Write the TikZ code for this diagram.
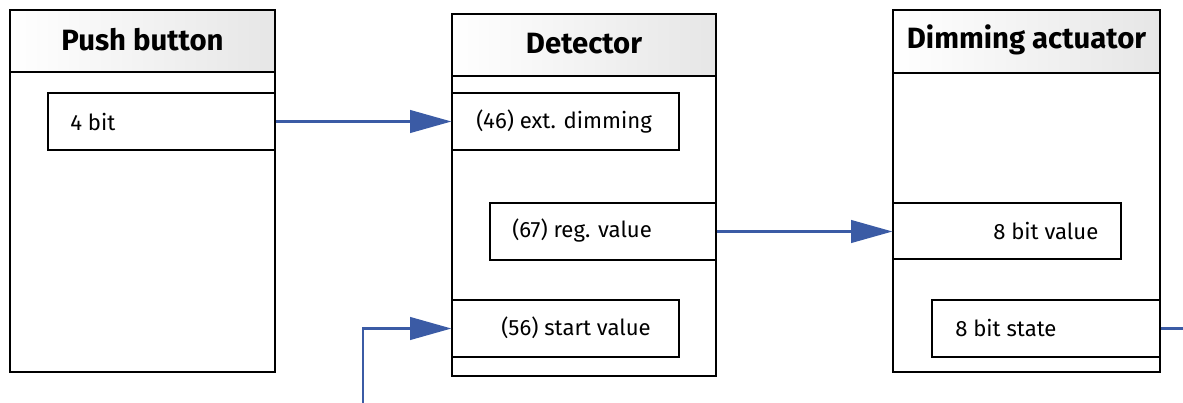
\documentclass[tikz,border=0pt]{standalone}
\usepackage{fontspec}
\setmainfont{Fira Sans}
\usetikzlibrary{arrows.meta,positioning,fit}
\definecolor{LinkBlue}{HTML}{3B5BA5}
\definecolor{HeadGray}{HTML}{E6E6E6}

\tikzset{
  block/.style={draw=black,line width=0.9pt,fill=white,inner sep=0pt},
  head/.style={draw=black,line width=0.9pt,inner sep=0pt,left color=white,right color=HeadGray},
  title/.style={inner sep=0pt,font=\fontsize{22}{26}\selectfont\bfseries},
  port/.style={draw=black,line width=0.9pt,fill=white,inner sep=0pt},
  lbl/.style={inner sep=0pt,anchor=west,font=\fontsize{16.6}{19}\selectfont},
  link/.style={LinkBlue,line width=1.6pt,-{Triangle[length=31pt,width=17pt]}}
}

\begin{document}
\begin{tikzpicture}[x=0.75pt,y=-0.75pt]
  \useasboundingbox (0,0) rectangle (1183,403);
  % push button
  \node[block,fit={(10,10) (275,372)}] (pb) {};
  \node[head,fit={(10,10) (275,72)}] (pbh) {};
  \node[title] (tpb) at ([yshift=1pt]pbh.center) {Push button};
  \node[port,fit={(48,93) (275,150)}] (p4) {};
  \node[lbl] (t4) at (70,122) {4 bit};
  % detector
  \node[block,fit={(452,14) (716,376)}] (det) {};
  \node[head,fit={(452,14) (716,76)}] (deth) {};
  \node[title] (tdet) at ([yshift=1pt]deth.center) {Detector};
  \node[port,fit={(452,93) (679,150)}] (ext) {};
  \node[lbl] (text) at (476,122) {(46) ext. dimming};
  \node[port,fit={(490,203) (716,260)}] (reg) {};
  \node[lbl] (treg) at (512,231) {(67) reg. value};
  \node[port,fit={(452,300) (679,357)}] (start) {};
  \node[lbl] (tstart) at (501,328) {(56) start value};
  % dimming actuator
  \node[block,fit={(893,10) (1160,372)}] (act) {};
  \node[head,fit={(893,10) (1160,73)}] (acth) {};
  \node[title] (tact) at ([yshift=1pt]acth.center) {Dimming actuator};
  \node[port,fit={(893,203) (1121,259)}] (val) {};
  \node[lbl] (tval) at (993,231) {8 bit value};
  \node[port,fit={(932,300) (1160,357)}] (state) {};
  \node[lbl] (tstate) at (955,328) {8 bit state};
  % connectors
  \coordinate (in) at (363,403);
  \coordinate (out) at (1183,328.5);
  \draw[link] (p4.east) -- (ext.west);
  \draw[link] (reg.east) -- (reg.east -| val.west);
  \draw[link] (in) |- (start.west);
  \draw[link,-] (state.east) -- (out);
\end{tikzpicture}
\end{document}
